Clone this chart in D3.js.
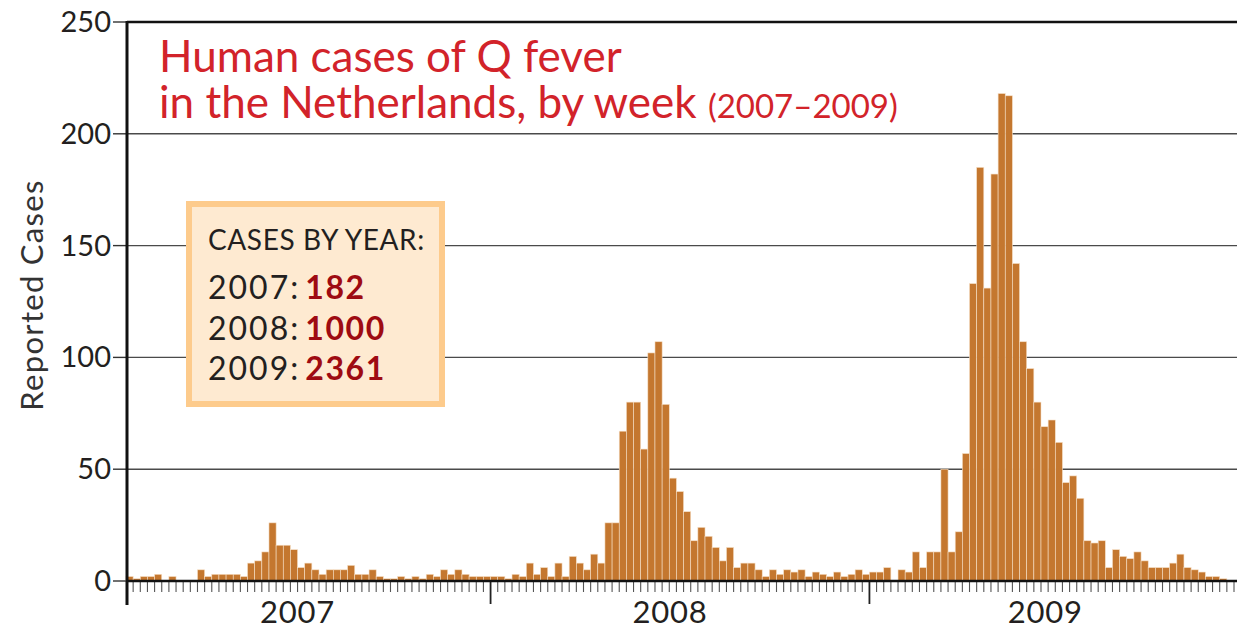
<!DOCTYPE html>
<html>
<head>
<meta charset="utf-8">
<script src="https://cdn.jsdelivr.net/npm/d3@7"></script>
<style>
  body { margin: 0; background: #fff; }
  svg text { font-family: Lato, "Open Sans", sans-serif; }
</style>
</head>
<body>
<main></main>
<script>
// weekly reported cases, week 0 = first week shown (early 2007)
const cases = [
  2, 1, 2, 2, 3, 0, 2, 0, 0, 0, 5, 2, 3, 3, 3, 3, 2, 8, 9, 13,
  26, 16, 16, 14, 6, 8, 5, 3, 5, 5, 5, 7, 3, 3, 5, 2, 1, 1, 2, 1,
  2, 1, 3, 2, 5, 3, 5, 3, 2, 2, 2, 2, 2, 1, 3, 2, 8, 3, 6, 2,
  8, 2, 11, 8, 5, 12, 8, 26, 26, 67, 80, 80, 59, 102, 107, 79, 46, 40, 31, 18,
  24, 20, 15, 9, 15, 6, 8, 8, 5, 2, 5, 3, 5, 4, 5, 2, 4, 3, 2, 4,
  2, 3, 5, 3, 4, 4, 6, 0, 5, 4, 13, 6, 13, 13, 50, 13, 22, 57, 133, 185,
  131, 182, 218, 217, 142, 107, 95, 80, 69, 72, 62, 44, 47, 37, 18, 17, 18, 6, 14, 11,
  10, 13, 9, 6, 6, 6, 8, 12, 6, 5, 4, 2, 2, 1, 0
];
const yTicks = [0, 50, 100, 150, 200, 250];
const years = ["2007", "2008", "2009"];
const yearStartWeek = [0, 51, 104];
const yearLabelWeek = [24, 76.1, 128.6];
const yearTotals = ["182", "1000", "2361"];

const width = 1237;
const height = 631;
const barColor = "#c4772f";

function createSVG(){
    var svg = d3.select("main")
    .append("svg")
    .attr("width", width)
    .attr("height", height);

    const xScale = d3.scaleLinear()
    .domain([0, cases.length])
    .range([126, 1234]);

    const yScale = d3.scaleLinear()
    .domain([0, 250])
    .range([581, 22]);

    // horizontal grid
    svg.selectAll(".grid")
    .data(yTicks.filter(d => d > 0))
    .enter()
    .append("line")
    .attr("class", "grid")
    .attr("x1", 127)
    .attr("x2", width)
    .attr("y1", d => yScale(d))
    .attr("y2", d => yScale(d))
    .style("stroke", d => d == 250 ? "#111" : "#4a4a4a")
    .style("stroke-width", d => d == 250 ? 2.5 : 1.4);

    // y tick marks + labels
    svg.selectAll(".ytick")
    .data(yTicks)
    .enter()
    .append("line")
    .attr("x1", 113)
    .attr("x2", 127)
    .attr("y1", d => yScale(d))
    .attr("y2", d => yScale(d))
    .style("stroke", "#333")
    .style("stroke-width", 1.4);

    svg.selectAll(".ylabel")
    .data(yTicks)
    .enter()
    .append("text")
    .attr("x", 111)
    .attr("y", d => yScale(d) + 10)
    .attr("text-anchor", "end")
    .style("font-size", "29px")
    .style("fill", "#231f20")
    .text(d => d);

    svg.append("text")
    .attr("transform", "translate(43,295) rotate(-90)")
    .attr("text-anchor", "middle")
    .style("font-size", "31px")
    .style("letter-spacing", "1.3px")
    .style("fill", "#333")
    .text("Reported Cases");

    // bars
    svg.selectAll(".bar")
    .data(cases)
    .enter()
    .append("rect")
    .attr("class", "bar")
    .attr("x", (d, i) => xScale(i))
    .attr("y", d => yScale(d))
    .attr("width", (d, i) => xScale(i + 1) - xScale(i))
    .attr("height", d => yScale(0) - yScale(d))
    .style("fill", barColor)
    .style("stroke", "#f6dfc6")
    .style("stroke-width", 0.6);

    // week ticks
    const weekTicks = d3.range(1, cases.length + 1);
    svg.selectAll(".wtick")
    .data(weekTicks)
    .enter()
    .append("line")
    .attr("x1", d => xScale(d))
    .attr("x2", d => xScale(d))
    .attr("y1", 581)
    .attr("y2", d => yearStartWeek.includes(d) ? 604 : 592)
    .style("stroke", d => yearStartWeek.includes(d) ? "#222" : "#555")
    .style("stroke-width", d => yearStartWeek.includes(d) ? 1.8 : 1.1);

    // baseline and y axis
    svg.append("line")
    .attr("x1", 127).attr("x2", width)
    .attr("y1", 581).attr("y2", 581)
    .style("stroke", "#111")
    .style("stroke-width", 2.5);

    svg.append("line")
    .attr("x1", 127).attr("x2", 127)
    .attr("y1", 21).attr("y2", 605)
    .style("stroke", "#111")
    .style("stroke-width", 3);

    svg.selectAll(".year")
    .data(years)
    .enter()
    .append("text")
    .attr("x", (d, i) => xScale(yearLabelWeek[i]))
    .attr("y", 623)
    .attr("text-anchor", "middle")
    .style("font-size", "31px")
    .style("letter-spacing", "0.8px")
    .style("fill", "#231f20")
    .text(d => d);

    // title, two lines
    svg.append("text")
    .attr("x", 159).attr("y", 72)
    .style("font-size", "44px")
    .style("fill", "#d2232a")
    .text("Human cases of Q fever");
    var title2 = svg.append("text")
    .attr("x", 159).attr("y", 118)
    .style("font-size", "44px")
    .style("fill", "#d2232a");
    title2.append("tspan").text("in the Netherlands, by week ");
    title2.append("tspan")
    .style("font-size", "33px")
    .text("(2007\u20132009)");

    // totals box
    svg.append("rect")
    .attr("x", 189).attr("y", 204)
    .attr("width", 253).attr("height", 200)
    .style("fill", "#feead1")
    .style("stroke", "#fdcb8c")
    .style("stroke-width", 6);

    svg.append("text")
    .attr("x", 208).attr("y", 250)
    .style("font-size", "28px")
    .style("letter-spacing", "0.6px")
    .style("fill", "#231f20")
    .text("CASES BY YEAR:");

    var rows = svg.selectAll(".total")
    .data(years)
    .enter()
    .append("text")
    .attr("class", "total")
    .attr("x", 208)
    .attr("y", (d, i) => 299 + i * 40.5)
    .style("font-size", "32px")
    .style("letter-spacing", "2px")
    .style("fill", "#231f20");
    rows.append("tspan").text(d => d + ":");
    rows.append("tspan")
    .attr("dx", 5)
    .style("font-weight", "bold")
    .style("letter-spacing", "1.6px")
    .style("fill", "#9e0b12")
    .text((d, i) => yearTotals[i]);
}
createSVG();
</script>
</body>
</html>
